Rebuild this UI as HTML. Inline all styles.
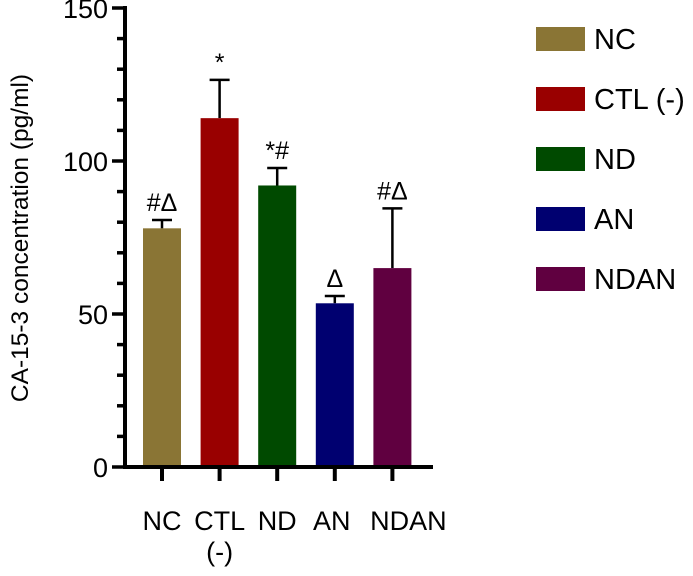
<!DOCTYPE html>
<html><head><meta charset="utf-8"><style>
body{margin:0;background:#fff;}
svg{display:block;font-family:"Liberation Sans",sans-serif;}
</style></head><body>
<svg id="c" width="693" height="576" viewBox="0 0 693 576"></svg>
<script>
const categories=["NC","CTL (-)","ND","AN","NDAN"];
const values=[78,114,92,53.5,65];
const errors=[2.7,12.5,5.7,2.4,19.5];
const marks=["#\u0394","*","*#","\u0394","#\u0394"];
const colors=["#8a7535","#990000","#004a00","#000070","#600040"];
const yTicks=[0,50,100,150];
const NS="http://www.w3.org/2000/svg";
const svg=document.getElementById('c');
const y0=467,y1=8,axX=125;
const y=v=>y0-(v/150)*(y0-y1);
const xc=i=>162+i*57.6;
function el(t,a,p){const e=document.createElementNS(NS,t);for(const k in a)e.setAttribute(k,a[k]);(p||svg).appendChild(e);return e;}
let ax=el('line',{x1:axX,y1:y1-2,x2:axX,y2:y0+2,stroke:'#000','stroke-width':4});


for(let v=0;v<=150;v+=10){
  const major=v%50===0;
  const t=el('line',{x1:axX-(major?13:8),y1:y(v),x2:axX,y2:y(v),stroke:'#000','stroke-width':3.5});
  
  
}
yTicks.forEach(v=>{
  const t=el('text',{x:axX-17,y:y(v)+10,'text-anchor':'end','font-size':27});
  t.textContent=v;
  
  
});
const yt=el('text',{x:28,y:238,'text-anchor':'middle','font-size':24.5,transform:'rotate(-90 28 238)'});
yt.textContent='CA-15-3 concentration (pg/ml)';


categories.forEach((c,i)=>{
  const cx=xc(i),w=38;
  const eb=el('path',{d:`M${cx} ${y(values[i])} V${y(values[i]+errors[i])} M${cx-10} ${y(values[i]+errors[i])} H${cx+10}`,stroke:'#000','stroke-width':2.5,fill:'none'});
  
  
  const b=el('rect',{x:cx-w/2,y:y(values[i]),width:w,height:y0-y(values[i]),fill:colors[i]});
  
  
  const m=el('text',{x:cx,y:y(values[i]+errors[i])-9,'text-anchor':'middle','font-size':25});
  m.textContent=marks[i];
  
  
  const tk=el('line',{x1:cx,y1:y0,x2:cx,y2:y0+14,stroke:'#000','stroke-width':4});
  
  
  const parts=c.split(' ');
  const lx=cx+(i===categories.length-1?16:(i===3?-3:0));
  parts.forEach((p,j)=>{
    const l=el('text',{x:lx,y:530+j*31,'text-anchor':'middle','font-size':27});
    l.textContent=p;
    
    
  });
  const sw=el('rect',{x:536,y:27+i*60,width:49,height:24,fill:colors[i]});
  
  
  const lt=el('text',{x:594,y:49+i*60,'font-size':29});
  lt.textContent=c;
  
  
});
const xa=el('line',{x1:axX-2,y1:y0,x2:433,y2:y0,stroke:'#000','stroke-width':4});


</script>
</body></html>
